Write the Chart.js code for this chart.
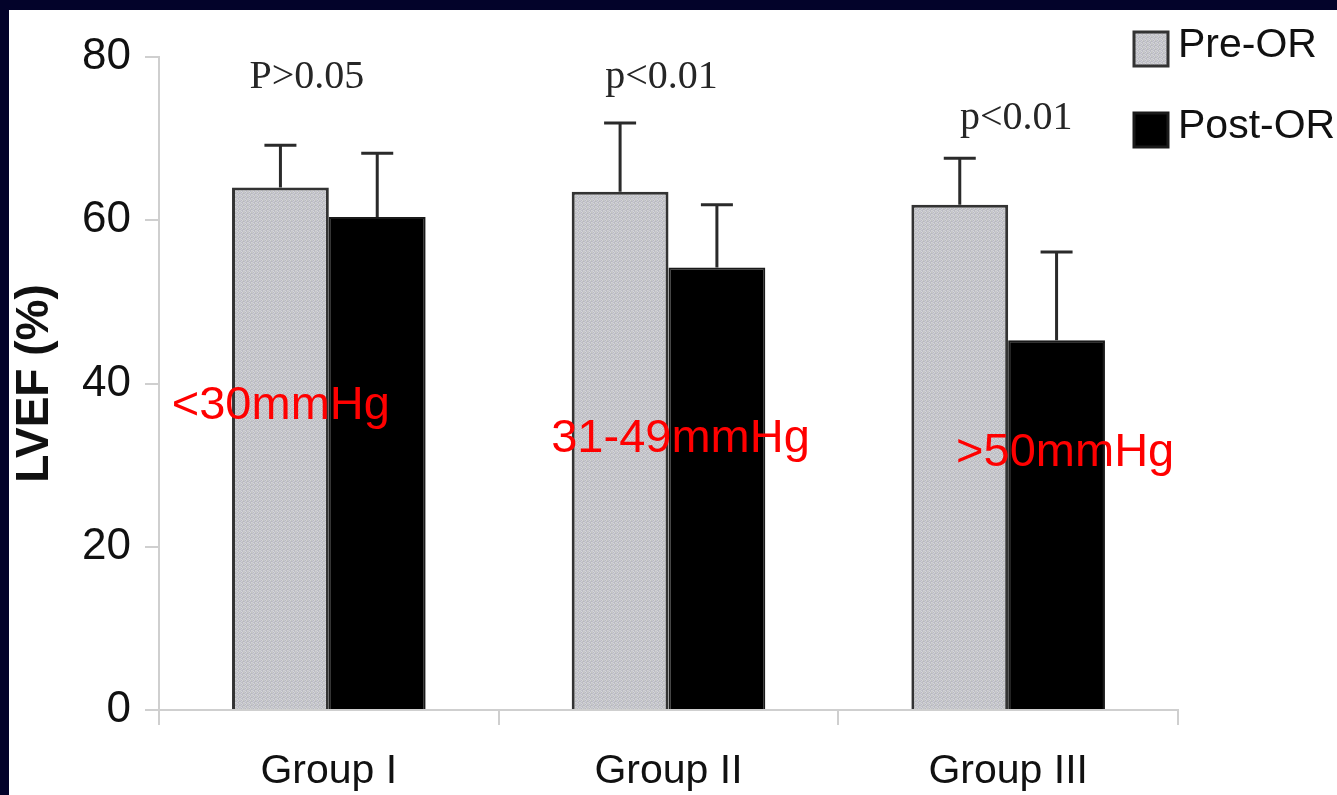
<!DOCTYPE html>
<html>
<head>
<meta charset="utf-8">
<script src="https://cdn.jsdelivr.net/npm/chart.js@4/dist/chart.umd.min.js"></script>
<style>
  html, body { margin: 0; padding: 0; background: #03032a; }
  #wrap { position: absolute; left: 0; top: 0; width: 1337px; height: 795px; }
</style>
</head>
<body>
<div id="wrap"><canvas id="lvef" width="1337" height="795"></canvas></div>
<script>
// data
const groups = ['Group I', 'Group II', 'Group III'];
const preOR = [64.0, 63.5, 61.9];
const postOR = [60.4, 54.2, 45.3];
const preSD = [5.2, 8.4, 5.7];
const postSD = [7.8, 7.7, 10.8];
const yTicks = [0, 20, 40, 60, 80];
const pValues = ['P>0.05', 'p<0.01', 'p<0.01'];
const pressureGroups = ['<30mmHg', '31-49mmHg', '>50mmHg'];

// where the annotations sit (pixel offset from category centre, value on y)
const pLabelPos = [{ dx: -22, v: 76.2 }, { dx: -7, v: 76.2 }, { dx: 8, v: 71.2 }];
const pressPos = [{ dx: -48, v: 35.6 }, { dx: 12, v: 31.6 }, { dx: 57, v: 29.9 }];

function stipple() {
    const c = document.createElement('canvas');
    c.width = 4; c.height = 4;
    const g = c.getContext('2d');
    const cols = ['#c8c8ce', '#b8b8c2', '#d4d4d8', '#c2c4c0',
                  '#bcbcc8', '#d0d0d4', '#c4c4ca', '#b6b8bc',
                  '#cecfd2', '#c0c0c8', '#b9bac0', '#d2d2d6',
                  '#c4c6c8', '#d6d6da', '#bebec8', '#c8c8cc'];
    for (let i = 0; i < 16; i++) {
        g.fillStyle = cols[i];
        g.fillRect(i % 4, Math.floor(i / 4), 1, 1);
    }
    return g.createPattern(c, 'repeat');
}

const panelBg = {
    id: 'panelBg',
    beforeDraw(chart) {
        const ctx = chart.ctx;
        ctx.save();
        ctx.fillStyle = '#03032a';
        ctx.fillRect(0, 0, chart.width, chart.height);
        ctx.fillStyle = '#ffffff';
        ctx.fillRect(9, 10, chart.width - 9, chart.height - 10);
        ctx.restore();
    }
};

const errorBars = {
    id: 'errorBars',
    afterDatasetsDraw(chart) {
        const ctx = chart.ctx;
        const y = chart.scales.y;
        const sds = [preSD, postSD];
        ctx.save();
        ctx.strokeStyle = '#2a2a2a';
        ctx.lineWidth = 3;
        chart.data.datasets.forEach((ds, di) => {
            chart.getDatasetMeta(di).data.forEach((bar, i) => {
                const top = y.getPixelForValue(ds.data[i] + sds[di][i]);
                ctx.beginPath();
                ctx.moveTo(bar.x, bar.y);
                ctx.lineTo(bar.x, top);
                ctx.moveTo(bar.x - 16, top);
                ctx.lineTo(bar.x + 16, top);
                ctx.stroke();
            });
        });
        ctx.restore();
    }
};

const annotations = {
    id: 'annotations',
    afterDraw(chart) {
        const ctx = chart.ctx;
        const x = chart.scales.x, y = chart.scales.y;
        ctx.save();
        ctx.textAlign = 'center';
        ctx.textBaseline = 'alphabetic';
        ctx.fillStyle = '#262626';
        ctx.font = '40px "Liberation Serif", serif';
        pValues.forEach((t, i) => {
            ctx.fillText(t, x.getPixelForValue(i) + pLabelPos[i].dx, y.getPixelForValue(pLabelPos[i].v));
        });
        ctx.fillStyle = '#ff0000';
        ctx.font = '47px "Liberation Sans", Arial, sans-serif';
        pressureGroups.forEach((t, i) => {
            ctx.fillText(t, x.getPixelForValue(i) + pressPos[i].dx, y.getPixelForValue(pressPos[i].v));
        });

        // legend
        ctx.textAlign = 'left';
        ctx.textBaseline = 'middle';
        ctx.font = '41px "Liberation Sans", Arial, sans-serif';
        chart.data.datasets.forEach((ds, i) => {
            const by = 32 + i * 81;
            ctx.fillStyle = ds.backgroundColor;
            ctx.fillRect(1134, by, 34, 34);
            ctx.lineWidth = 3;
            ctx.strokeStyle = ds.borderColor;
            ctx.strokeRect(1134, by, 34, 34);
            ctx.fillStyle = '#111111';
            ctx.fillText(ds.label, 1178, by + 14);
        });
        ctx.restore();
    }
};

new Chart(document.getElementById('lvef'), {
    type: 'bar',
    data: {
        labels: groups,
        datasets: [
            {
                label: 'Pre-OR',
                data: preOR,
                backgroundColor: stipple(),
                borderColor: '#333333',
                borderWidth: 3
            },
            {
                label: 'Post-OR',
                data: postOR,
                backgroundColor: '#000000',
                borderColor: '#1a1a1a',
                borderWidth: 2
            }
        ]
    },
    options: {
        responsive: false,
        animation: false,
        events: [],
        categoryPercentage: 0.57,
        barPercentage: 1.0,
        layout: { padding: { left: 0, top: 57, right: 159, bottom: 0 } },
        plugins: {
            legend: { display: false },
            tooltip: { enabled: false }
        },
        scales: {
            x: {
                afterFit(s) { s.height = 85; },
                grid: { drawOnChartArea: false, drawTicks: true, tickLength: 15, color: '#cfcfcf', lineWidth: 2 },
                border: { display: true, color: '#cfcfcf', width: 2 },
                ticks: {
                    color: '#111111',
                    padding: 22,
                    font: { family: '"Liberation Sans", Arial, sans-serif', size: 41 }
                }
            },
            y: {
                min: 0,
                max: 80,
                afterFit(s) { s.width = 159; },
                afterBuildTicks(s) { s.ticks = yTicks.map(v => ({ value: v })); },
                grid: { drawOnChartArea: false, drawTicks: true, tickLength: 14, color: '#cfcfcf', lineWidth: 2 },
                border: { display: true, color: '#cfcfcf', width: 2 },
                ticks: {
                    color: '#111111',
                    padding: 14,
                    font: { family: '"Liberation Sans", Arial, sans-serif', size: 44 }
                },
                title: {
                    display: true,
                    text: 'LVEF (%)',
                    color: '#111111',
                    padding: { top: 8, bottom: 0 },
                    font: { family: '"Liberation Sans", Arial, sans-serif', size: 46, weight: 'bold' }
                }
            }
        }
    },
    plugins: [panelBg, errorBars, annotations]
});
</script>
</body>
</html>
